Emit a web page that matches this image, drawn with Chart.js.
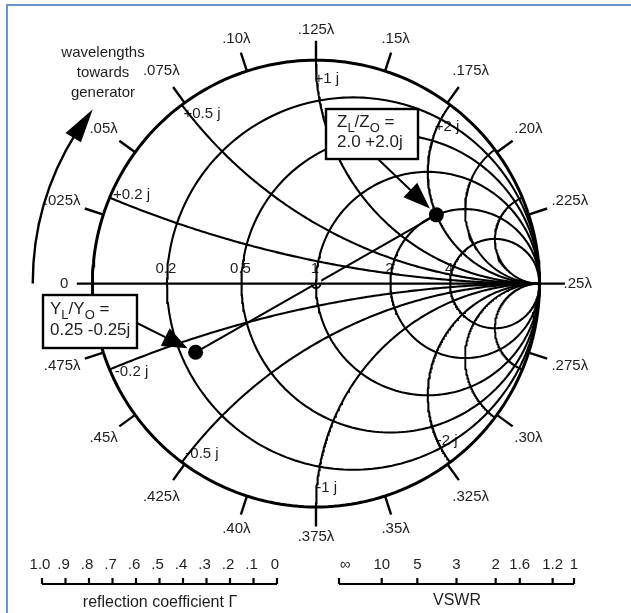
<!DOCTYPE html>
<html>
<head>
<meta charset="utf-8">
<script src="https://cdn.jsdelivr.net/npm/chart.js@4.4.1/dist/chart.umd.min.js"></script>
<style>
  html, body { margin: 0; padding: 0; background: #fff; }
  #wrap { position: relative; width: 631px; height: 613px; overflow: hidden; }
  #frame { position: absolute; left: 6px; top: 4px; right: -4px; bottom: -4px;
           border-top: 2px solid #6d92cc; border-left: 2px solid #6d92cc; pointer-events: none; }
</style>
</head>
<body>
<div id="wrap">
  <canvas id="smith"></canvas>
  <div id="frame"></div>
</div>
<script>
// Smith chart data
const resistances = [0.2, 0.5, 1, 2, 4];
const resistanceLabels = ['0.2', '0.5', '1', '2', '4'];
const reactances = [0.2, 0.5, 1, 2, -0.2, -0.5, -1, -2];
const reactanceLabels = ['+0.2 j', '+0.5 j', '+1 j', '+2 j', '-0.2 j', '-0.5 j', '-1 j', '-2 j'];
const rimReactances = [3, 5, -3, -5]; // unlabelled arcs close to the rim
const wavelengths = [0, .025, .05, .075, .10, .125, .15, .175, .20, .225,
                     .25, .275, .30, .325, .35, .375, .40, .425, .45, .475];
const wavelengthLabels = ['0', '.025λ', '.05λ', '.075λ', '.10λ', '.125λ', '.15λ', '.175λ', '.20λ', '.225λ',
                          '.25λ', '.275λ', '.30λ', '.325λ', '.35λ', '.375λ', '.40λ', '.425λ', '.45λ', '.475λ'];
const loadZ = [2.0, 2.0];     // Z_L/Z_O = 2.0 + 2.0j
const loadY = [0.25, -0.25];  // Y_L/Y_O = 0.25 - 0.25j
const gammaTicks = [1.0, .9, .8, .7, .6, .5, .4, .3, .2, .1, 0];
const gammaLabels = ['1.0', '.9', '.8', '.7', '.6', '.5', '.4', '.3', '.2', '.1', '0'];
const vswrTicks = [Infinity, 10, 5, 3, 2, 1.6, 1.2, 1];
const vswrLabels = ['∞', '10', '5', '3', '2', '1.6', '1.2', '1'];

// layout (canvas pixels)
const W = 631, H = 613;
const CX = 316, CY = 283, R = 229;
const X_MIN = -CX / R, X_MAX = (W - CX) / R;
const Y_MAX = CY / R, Y_MIN = -(H - CY) / R;
const TICK = 20 / R;
const FONT = '"Liberation Sans", Arial, sans-serif';
const INK = '#000';
const TEXT = '#1e1e1e';

// normalized impedance -> reflection coefficient
function gamma(r, x) {
  const d = (r + 1) * (r + 1) + x * x;
  return { x: (r * r - 1 + x * x) / d, y: 2 * x / d };
}

const datasets = [];
function addLine(points, width) {
  datasets.push({
    data: points, showLine: true, pointRadius: 0, borderColor: INK,
    borderWidth: width, fill: false, tension: 0
  });
}

function resistanceCircle(r) {
  const pts = [];
  for (let i = 0; i <= 240; i++) {
    const t = -Math.PI / 2 + Math.PI * i / 240;
    pts.push(gamma(r, (r + 1) * Math.tan(t)));
  }
  return pts;
}

function reactanceArc(x) {
  const pts = [];
  const sMax = Math.atan(Math.abs(x));
  for (let i = 0; i <= 200; i++) {
    const s = sMax - (sMax - 1e-4) * i / 200;
    const r = Math.max(0, Math.abs(x) / Math.tan(s) - 1);
    pts.push(gamma(r, x));
  }
  pts.push({ x: 1, y: 0 });
  return pts;
}

// real axis, extending past the rim
addLine([{ x: -1 - 16 / R, y: 0 }, { x: 1 + 26 / R, y: 0 }], 2.4);
addLine(resistanceCircle(0), 3);
resistances.forEach(r => addLine(resistanceCircle(r), 2.1));
reactances.forEach(x => addLine(reactanceArc(x), 2.1));
rimReactances.forEach(x => addLine(reactanceArc(x), 1.9));
wavelengths.forEach(d => {
  if (d === 0 || d === .25) return;
  const a = Math.PI - 4 * Math.PI * d;
  addLine([{ x: Math.cos(a), y: Math.sin(a) },
           { x: (1 + TICK) * Math.cos(a), y: (1 + TICK) * Math.sin(a) }], 2.4);
});
const gZ = gamma(loadZ[0], loadZ[1]);
const gY = gamma(loadY[0], loadY[1]);
addLine([gY, gZ], 2.1);
const gridCount = datasets.length;

datasets.push({
  data: [{ x: 0, y: 0 }], pointRadius: 4.5, pointBackgroundColor: '#fff',
  pointBorderColor: INK, pointBorderWidth: 1.8, showLine: false
});
datasets.push({
  data: [gZ, gY], pointRadius: 7.5, pointBackgroundColor: INK,
  pointBorderColor: INK, pointBorderWidth: 0, showLine: false
});

function labelOnWhite(ctx, text, x, y, top, bottom) {
  const w = ctx.measureText(text).width;
  ctx.fillStyle = '#fff';
  ctx.fillRect(x - w / 2 - 2, top, w + 4, bottom - top);
  ctx.fillStyle = TEXT;
  ctx.fillText(text, x, y);
}

function subText(ctx, parts, x, y) {
  parts.forEach(([t, sub]) => {
    ctx.font = sub ? '13px ' + FONT : '17px ' + FONT;
    ctx.fillText(t, x, sub ? y + 6 : y);
    x += ctx.measureText(t).width;
  });
}

function arrowTo(ctx, from, to, gap, len, half) {
  const dx = to.x - from.x, dy = to.y - from.y, L = Math.hypot(dx, dy);
  const ux = dx / L, uy = dy / L;
  const tip = { x: to.x - ux * gap, y: to.y - uy * gap };
  const bx = tip.x - ux * len, by = tip.y - uy * len;
  ctx.beginPath();
  ctx.moveTo(from.x, from.y);
  ctx.lineTo(bx, by);
  ctx.stroke();
  ctx.beginPath();
  ctx.moveTo(tip.x, tip.y);
  ctx.lineTo(bx - uy * half, by + ux * half);
  ctx.lineTo(bx + uy * half, by - ux * half);
  ctx.closePath();
  ctx.fill();
}

const smithDecor = {
  id: 'smithDecor',
  afterDatasetDraw(chart, args) {
    if (args.index !== gridCount - 1) return;
    const ctx = chart.ctx, xs = chart.scales.x, ys = chart.scales.y;
    const cx = xs.getPixelForValue(0), cy = ys.getPixelForValue(0);
    const rad = xs.getPixelForValue(1) - cx;
    ctx.save();
    ctx.textAlign = 'center';
    ctx.textBaseline = 'middle';
    ctx.font = '15px ' + FONT;
    // resistance labels sitting on the real axis
    resistances.forEach((r, i) => {
      const px = xs.getPixelForValue(gamma(r, 0).x);
      labelOnWhite(ctx, resistanceLabels[i], px - 1, cy - 15, cy - 24, cy + 1);
    });
    // reactance labels just inside the rim
    reactances.forEach((x, i) => {
      const g = gamma(0, x);
      const a = Math.atan2(g.y, g.x) - Math.sign(x) * 3 * Math.PI / 180;
      const px = cx + 0.915 * rad * Math.cos(a), py = cy - 0.915 * rad * Math.sin(a);
      labelOnWhite(ctx, reactanceLabels[i], px, py, py - 8, py + 8);
    });
    ctx.restore();
  },
  afterDatasetsDraw(chart) {
    const ctx = chart.ctx, xs = chart.scales.x, ys = chart.scales.y;
    const cx = xs.getPixelForValue(0), cy = ys.getPixelForValue(0);
    const rad = xs.getPixelForValue(1) - cx;
    ctx.save();
    ctx.fillStyle = TEXT;
    ctx.strokeStyle = INK;
    ctx.textAlign = 'center';
    ctx.textBaseline = 'middle';

    // wavelength labels around the rim
    ctx.font = '15px ' + FONT;
    wavelengths.forEach((d, i) => {
      const a = Math.PI - 4 * Math.PI * d;
      const c = Math.cos(a), s = Math.sin(a);
      const hw = ctx.measureText(wavelengthLabels[i]).width / 2;
      const dist = rad + 24 + hw * Math.abs(c) + 6 * Math.abs(s);
      ctx.fillText(wavelengthLabels[i], cx + dist * c, cy - dist * s);
    });

    // "wavelengths towards generator" with curved arrow
    ctx.fillText('wavelengths', cx - 213, cy - 231);
    ctx.fillText('towards', cx - 213, cy - 211);
    ctx.fillText('generator', cx - 213, cy - 191);
    ctx.fillStyle = INK;
    const ar = rad * 1.267;
    ctx.lineWidth = 2.4;
    ctx.beginPath();
    ctx.arc(cx, cy, ar, Math.PI, Math.PI + 32 * Math.PI / 180);
    ctx.stroke();
    const tipA = Math.PI + 38 * Math.PI / 180, baseA = Math.PI + 31 * Math.PI / 180;
    ctx.beginPath();
    ctx.moveTo(cx + ar * Math.cos(tipA), cy + ar * Math.sin(tipA));
    ctx.lineTo(cx + (ar - 9) * Math.cos(baseA), cy + (ar - 9) * Math.sin(baseA));
    ctx.lineTo(cx + (ar + 9) * Math.cos(baseA), cy + (ar + 9) * Math.sin(baseA));
    ctx.closePath();
    ctx.fill();

    // load boxes with arrows
    const pZ = { x: xs.getPixelForValue(gZ.x), y: ys.getPixelForValue(gZ.y) };
    const pY = { x: xs.getPixelForValue(gY.x), y: ys.getPixelForValue(gY.y) };
    ctx.lineWidth = 2;
    arrowTo(ctx, { x: 378, y: 159 }, pZ, 9, 27, 10);
    arrowTo(ctx, { x: 137, y: 323 }, pY, 9, 25, 10);

    ctx.lineWidth = 2.4;
    ctx.fillStyle = '#fff';
    ctx.fillRect(326, 109, 92, 50);
    ctx.strokeRect(326, 109, 92, 50);
    ctx.fillRect(43, 295, 94, 53);
    ctx.strokeRect(43, 295, 94, 53);
    ctx.fillStyle = TEXT;
    ctx.textAlign = 'left';
    subText(ctx, [['Z', 0], ['L', 1], ['/Z', 0], ['O', 1], [' =', 0]], 337, 122);
    subText(ctx, [['2.0 +2.0j', 0]], 337, 142);
    subText(ctx, [['Y', 0], ['L', 1], ['/Y', 0], ['O', 1], [' =', 0]], 50, 309);
    subText(ctx, [['0.25 -0.25j', 0]], 50, 330);

    // reflection coefficient and VSWR scales
    const len = 235, base = 584;
    const gStart = 42, vStart = 339;
    ctx.textAlign = 'center';
    ctx.font = '15px ' + FONT;
    ctx.lineWidth = 2.2;
    ctx.beginPath();
    ctx.moveTo(gStart, base); ctx.lineTo(gStart + len, base);
    ctx.moveTo(vStart, base); ctx.lineTo(vStart + len, base);
    gammaTicks.forEach((g, i) => {
      const px = gStart + (1 - g) * len;
      ctx.moveTo(px, base); ctx.lineTo(px, base - 6);
      ctx.fillText(gammaLabels[i], px - 2, 565);
    });
    vswrTicks.forEach((v, i) => {
      const g = v === Infinity ? 1 : (v - 1) / (v + 1);
      const px = vStart + (1 - g) * len;
      ctx.moveTo(px, base); ctx.lineTo(px, base - 6);
      ctx.fillText(vswrLabels[i], v === Infinity ? px + 6 : px, 565);
    });
    ctx.stroke();
    ctx.font = '16px ' + FONT;
    ctx.fillText('reflection coefficient Γ', 160, 603);
    ctx.fillText('VSWR', 457, 601);
    ctx.restore();
  }
};

new Chart(document.getElementById('smith'), {
  type: 'scatter',
  data: { datasets },
  options: {
    animation: false,
    responsive: true,
    maintainAspectRatio: false,
    events: [],
    layout: { padding: 0 },
    plugins: { legend: { display: false }, tooltip: { enabled: false } },
    scales: {
      x: { type: 'linear', min: X_MIN, max: X_MAX, display: false },
      y: { type: 'linear', min: Y_MIN, max: Y_MAX, display: false }
    }
  },
  plugins: [smithDecor]
});
</script>
</body>
</html>
